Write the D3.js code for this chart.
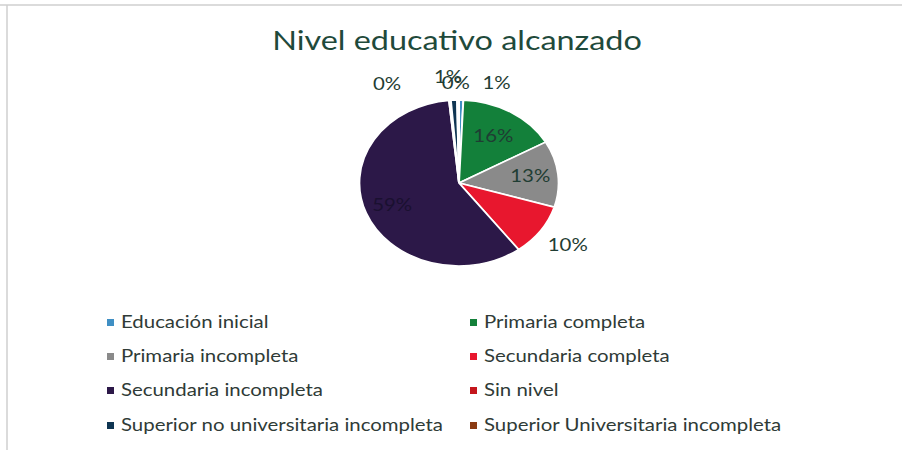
<!DOCTYPE html>
<html>
<head>
<meta charset="utf-8">
<script src="https://cdn.jsdelivr.net/npm/d3@7"></script>
<style>
  body { margin: 0; background: #fff; }
  text { font-family: Lato, "Open Sans", sans-serif; }
</style>
</head>
<body>
<div class="canvas"></div>
<script>
// data
const categories = [
  'Educación inicial',
  'Primaria completa',
  'Primaria incompleta',
  'Secundaria completa',
  'Secundaria incompleta',
  'Sin nivel',
  'Superior no universitaria incompleta',
  'Superior Universitaria incompleta'
];
const values = [0.7, 16.1, 12.9, 10.1, 58.6, 0.3, 1.0, 0.3];
const colors = ['#3f8fc4', '#13803a', '#8a8a8a', '#e8172e', '#2c1848', '#c4161c', '#0f3552', '#8a3a12'];
const title = 'Nivel educativo alcanzado';

const width = 902;
const height = 450;
// the whole chart is stretched sideways a little
const sx = 1.2;

const svg = d3.select('.canvas').append('svg')
  .attr('width', width)
  .attr('height', height);

// frame lines (scanned chart border)
svg.append('line')
  .attr('x1', 0).attr('x2', width).attr('y1', 5).attr('y2', 5)
  .attr('stroke', '#cfcfcf').attr('stroke-width', 1.5);
svg.append('line')
  .attr('x1', 7).attr('x2', 7).attr('y1', 5).attr('y2', height)
  .attr('stroke', '#cfcfcf').attr('stroke-width', 1.5);

// title
svg.append('text')
  .attr('transform', `translate(457,50) scale(${sx},1)`)
  .attr('text-anchor', 'middle')
  .attr('font-size', 27)
  .attr('fill', '#1f4a3b')
  .text(title);

// pie
const cx = 459, cy = 183, r = 83;
const total = d3.sum(values);
const data = categories.map((c, i) => ({ name: c, value: values[i], color: colors[i] }));

const pie = d3.pie().sort(null).value(d => d.value);
const arcs = pie(data);
const arc = d3.arc().innerRadius(0).outerRadius(r);

const pieGroup = svg.append('g')
  .attr('transform', `translate(${cx},${cy}) scale(${sx},1)`);

pieGroup.selectAll('path')
  .data(arcs)
  .enter()
  .append('path')
    .attr('d', arc)
    .attr('fill', d => d.data.color)
    .attr('stroke', '#fff')
    .attr('stroke-width', 1.6);

// labels
const pct = d => Math.round(d.data.value / total * 100) + '%';
// radius factor and nudges for each label
const labelPos = [
  { k: 1.2, dx: 35, dy: 0 },
  { k: 0.66, dx: 0, dy: 0 },
  { k: 0.72, dx: 0, dy: 0 },
  { k: 1.31, dx: 2, dy: 0 },
  { k: 0.72, dx: 0, dy: 0 },
  { k: 1.2, dx: -61, dy: 0 },
  { k: 1.2, dx: -5, dy: -6 },
  { k: 1.2, dx: -2, dy: 0 }
];

svg.append('g')
  .selectAll('text')
  .data(arcs)
  .enter()
  .append('text')
    .attr('transform', (d, i) => {
      const a = (d.startAngle + d.endAngle) / 2;
      const x = cx + Math.sin(a) * r * labelPos[i].k * sx + labelPos[i].dx;
      const y = cy - Math.cos(a) * r * labelPos[i].k + labelPos[i].dy;
      return `translate(${x},${y}) scale(${sx},1)`;
    })
    .attr('dy', '0.35em')
    .attr('text-anchor', 'middle')
    .attr('font-size', 17)
    .attr('fill', (d, i) => i === 4 ? '#1a1030' : '#1f3d33')
    .text(pct);

// legend
const legendX = [107, 470];
const legendY = [322, 356, 390, 425];

const legend = svg.append('g')
  .selectAll('g')
  .data(data)
  .enter()
  .append('g')
    .attr('transform', (d, i) => `translate(${legendX[i % 2]},${legendY[Math.floor(i / 2)]})`);

legend.append('rect')
  .attr('x', 0)
  .attr('y', -3)
  .attr('width', 7)
  .attr('height', 7)
  .attr('fill', d => d.color);

legend.append('text')
  .attr('transform', `translate(14,0) scale(${sx},1)`)
  .attr('dy', '0.35em')
  .attr('font-size', 17)
  .attr('fill', '#2f3b37')
  .text(d => d.name);
</script>
</body>
</html>
